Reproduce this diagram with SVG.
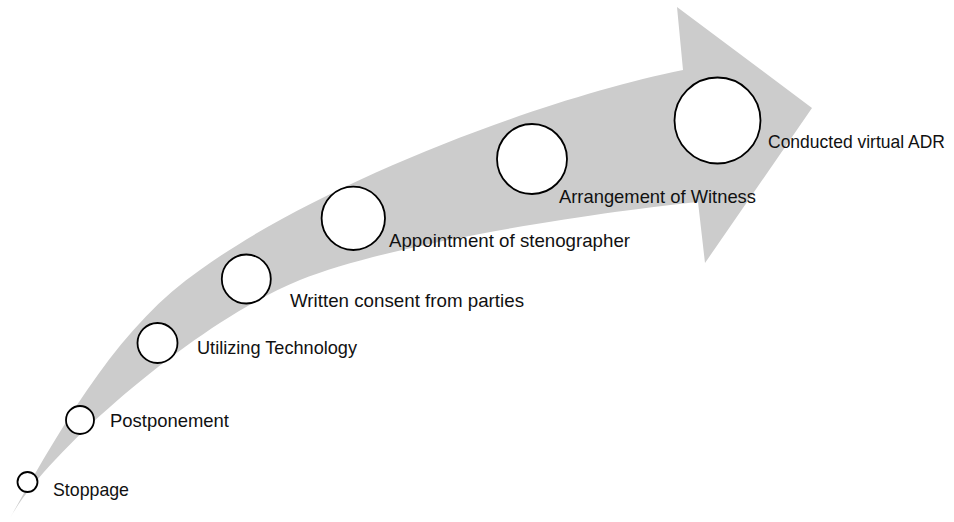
<svg xmlns="http://www.w3.org/2000/svg" width="954" height="522" viewBox="0 0 954 522">
  <style>
    .step { fill: #ffffff; stroke: #000000; stroke-width: 1.8; }
    .label { font-family: "Liberation Sans", Arial, sans-serif; font-size: 18.5px; fill: #111111; }
  </style>
  <rect width="954" height="522" fill="#ffffff"/>
  <!-- curved progress arrow -->
  <g id="connectors">
    <path id="progress-arrow" fill="#cccccc" d="M10,518 C65,420 120,325 200,270 C320,183 540,99 683,70 L677,7 L812,108 L705,263 L698,202 C618,210 400,240 300,280 C200,320 50,448 10,518 Z"/>
  </g>
  <g id="stoppage">
    <circle class="step" cx="27.5" cy="482" r="10"/>
    <text class="label" x="53" y="496" textLength="76" lengthAdjust="spacingAndGlyphs">Stoppage</text>
  </g>
  <g id="postponement">
    <circle class="step" cx="80" cy="420" r="14"/>
    <text class="label" x="110" y="427" textLength="119" lengthAdjust="spacingAndGlyphs">Postponement</text>
  </g>
  <g id="utilizing-technology">
    <circle class="step" cx="157.5" cy="343" r="20"/>
    <text class="label" x="197" y="354" textLength="160" lengthAdjust="spacingAndGlyphs">Utilizing Technology</text>
  </g>
  <g id="written-consent">
    <circle class="step" cx="246.3" cy="279" r="24.5"/>
    <text class="label" x="290" y="307" textLength="234" lengthAdjust="spacingAndGlyphs">Written consent from parties</text>
  </g>
  <g id="appointment-stenographer">
    <circle class="step" cx="353.3" cy="218.3" r="31.7"/>
    <text class="label" x="389" y="247" textLength="241" lengthAdjust="spacingAndGlyphs">Appointment of stenographer</text>
  </g>
  <g id="arrangement-witness">
    <circle class="step" cx="532" cy="159" r="35"/>
    <text class="label" x="559" y="203" textLength="197" lengthAdjust="spacingAndGlyphs">Arrangement of Witness</text>
  </g>
  <g id="conducted-virtual-adr">
    <circle class="step" cx="717.5" cy="120.5" r="43"/>
    <text class="label" x="768" y="148" textLength="177" lengthAdjust="spacingAndGlyphs">Conducted virtual ADR</text>
  </g>
</svg>
